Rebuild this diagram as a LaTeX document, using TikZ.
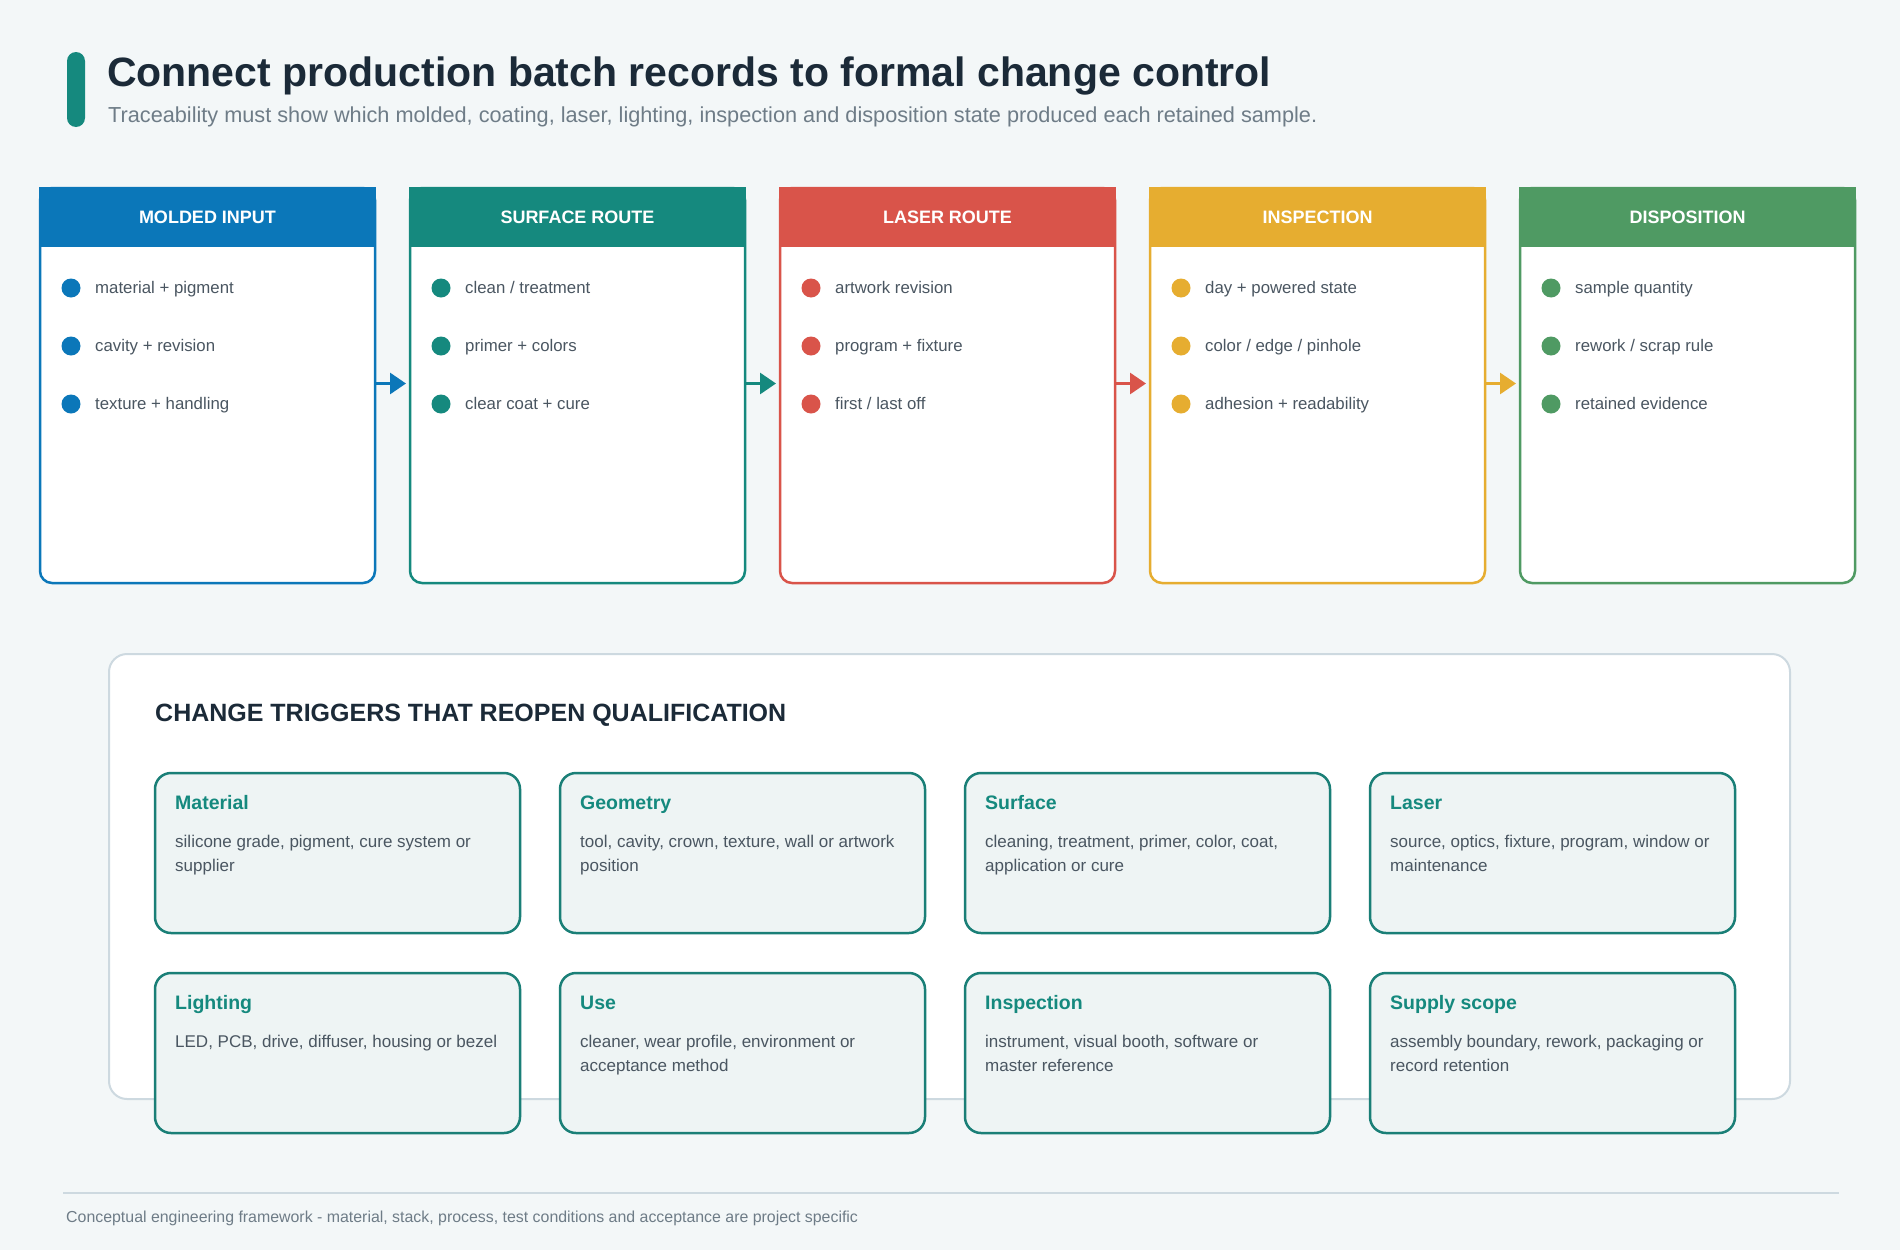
\documentclass[tikz,border=0pt]{standalone}
\usepackage{fontspec}
\setmainfont{Liberation Sans}
\usetikzlibrary{arrows.meta,positioning}
\definecolor{bg}{HTML}{F3F7F8}
\definecolor{ink}{HTML}{1B2A38}
\definecolor{muted}{HTML}{6E7C87}
\definecolor{body}{HTML}{4A5661}
\definecolor{cblue}{HTML}{0B77B9}
\definecolor{cteal}{HTML}{15897E}
\definecolor{cred}{HTML}{D9544A}
\definecolor{cyellow}{HTML}{E6AD30}
\definecolor{cgreen}{HTML}{4F9A63}
\definecolor{frame}{HTML}{CDD9E0}
\definecolor{cardfill}{HTML}{EEF4F4}
\definecolor{cardline}{HTML}{1A7F77}
\tikzset{
    %Define standard arrow tip
    >={Triangle[length=16pt,width=21pt]},
    %Define style for stage boxes
    stage/.style={
           rectangle,
           rounded corners=12pt,
           draw=#1, line width=2.5pt,
           fill=white,
           outer sep=0pt,
           minimum width=335pt,
           minimum height=395pt},
    %Define style for stage headers
    stagehead/.style={
           rectangle,
           fill=#1,
           text=white,
           font=\bfseries\fontsize{18}{20}\selectfont,
           minimum width=337.5pt,
           minimum height=60.25pt,
           yshift=1.25pt,
           anchor=north},
    % Define bullet and item styles
    dot/.style={
           circle,
           fill=#1,
           inner sep=0pt,
           minimum size=19pt},
    item/.style={
           anchor=base west,
           inner sep=0pt,
           text=body,
           font=\fontsize{16.8}{20}\selectfont},
    % Define arrow style
    flow/.style={
           ->,
           line width=3pt,
           draw=#1,
           shorten >=4pt},
    % Define trigger card styles
    card/.style={
           rectangle,
           rounded corners=16pt,
           draw=cardline, line width=2.5pt,
           fill=cardfill,
           outer sep=0pt,
           minimum width=365pt,
           minimum height=160pt},
    cardtitle/.style={
           anchor=base west,
           inner sep=0pt,
           text=cteal,
           font=\bfseries\fontsize{19.5}{22}\selectfont},
    cardtext/.style={
           anchor=north west,
           inner sep=0pt,
           align=left,
           text=body,
           font=\fontsize{17}{24}\selectfont},
}
\begin{document}
\begin{tikzpicture}[x=1pt, y=-1pt]
 %canvas
    \fill[bg] (0,0) rectangle (1900,1250);
    \useasboundingbox (0,0) rectangle (1900,1250);
 %title
    \node[fill=cteal, rounded corners=9pt, inner sep=0pt, minimum width=18pt, minimum height=75pt] (pill) at (76,89.5) {};
    \node[anchor=base west, inner sep=0pt, text=ink, font=\bfseries\fontsize{41}{45}\selectfont] (title) at (107,86) {Connect production batch records to formal change control};
    \node[anchor=base west, inner sep=0pt, text=muted, font=\fontsize{21.7}{24}\selectfont] (subtitle) at (108,122) {Traceability must show which molded, coating, laser, lighting, inspection and disposition state produced each retained sample.};
 %stages
    \node[stage=cblue] (molded) at (207.5,385.5) {};
    \node[stage=cteal, right=35pt of molded] (surface) {};
    \node[stage=cred, right=35pt of surface] (laser) {};
    \node[stage=cyellow, right=35pt of laser] (inspect) {};
    \node[stage=cgreen, right=35pt of inspect] (dispo) {};
    \node[stagehead=cblue] (moldedhead) at (molded.north) {MOLDED INPUT};
    \node[stagehead=cteal] (surfacehead) at (surface.north) {SURFACE ROUTE};
    \node[stagehead=cred] (laserhead) at (laser.north) {LASER ROUTE};
    \node[stagehead=cyellow] (inspecthead) at (inspect.north) {INSPECTION};
    \node[stagehead=cgreen] (dispohead) at (dispo.north) {DISPOSITION};
 %items
    \foreach \t [count=\i] in {material + pigment, cavity + revision, texture + handling}{
        \node[dot=cblue] (molded-d\i) at ([shift={(31,42+58*\i)}]molded.north west) {};
        \node[item] (molded-t\i) at ([shift={(55,47+58*\i)}]molded.north west) {\t};
    }
    \foreach \t [count=\i] in {clean / treatment, primer + colors, clear coat + cure}{
        \node[dot=cteal] (surface-d\i) at ([shift={(31,42+58*\i)}]surface.north west) {};
        \node[item] (surface-t\i) at ([shift={(55,47+58*\i)}]surface.north west) {\t};
    }
    \foreach \t [count=\i] in {artwork revision, program + fixture, first / last off}{
        \node[dot=cred] (laser-d\i) at ([shift={(31,42+58*\i)}]laser.north west) {};
        \node[item] (laser-t\i) at ([shift={(55,47+58*\i)}]laser.north west) {\t};
    }
    \foreach \t [count=\i] in {day + powered state, color / edge / pinhole, adhesion + readability}{
        \node[dot=cyellow] (inspect-d\i) at ([shift={(31,42+58*\i)}]inspect.north west) {};
        \node[item] (inspect-t\i) at ([shift={(55,47+58*\i)}]inspect.north west) {\t};
    }
    \foreach \t [count=\i] in {sample quantity, rework / scrap rule, retained evidence}{
        \node[dot=cgreen] (dispo-d\i) at ([shift={(31,42+58*\i)}]dispo.north west) {};
        \node[item] (dispo-t\i) at ([shift={(55,47+58*\i)}]dispo.north west) {\t};
    }
 %edges
    \draw[flow=cblue] ([yshift=2pt]molded.east) -- ([yshift=2pt]surface.west);
    \draw[flow=cteal] ([yshift=2pt]surface.east) -- ([yshift=2pt]laser.west);
    \draw[flow=cred] ([yshift=2pt]laser.east) -- ([yshift=2pt]inspect.west);
    \draw[flow=cyellow] ([yshift=2pt]inspect.east) -- ([yshift=2pt]dispo.west);
 %triggers
    \node[rectangle, rounded corners=18pt, draw=frame, line width=2pt, fill=white, minimum width=1681pt, minimum height=445pt] (triggers) at (949.5,876.5) {};
    \node[anchor=base west, inner sep=0pt, text=ink, font=\bfseries\fontsize{25}{28}\selectfont] (trighead) at (155,721) {CHANGE TRIGGERS THAT REOPEN QUALIFICATION};
    \node[card] (material) at (337.5,853) {};
    \node[card, right=40pt of material] (geometry) {};
    \node[card, right=40pt of geometry] (surf) {};
    \node[card, right=40pt of surf] (las) {};
    \node[card, below=40pt of material] (light) {};
    \node[card, right=40pt of light] (use) {};
    \node[card, right=40pt of use] (insp) {};
    \node[card, right=40pt of insp] (supply) {};
    \foreach \nm/\ttl/\txt in {
        material/Material/{silicone grade, pigment, cure system or\\supplier},
        geometry/Geometry/{tool, cavity, crown, texture, wall or artwork\\position},
        surf/Surface/{cleaning, treatment, primer, color, coat,\\application or cure},
        las/Laser/{source, optics, fixture, program, window or\\maintenance},
        light/Lighting/{LED, PCB, drive, diffuser, housing or bezel},
        use/Use/{cleaner, wear profile, environment or\\acceptance method},
        insp/Inspection/{instrument, visual booth, software or\\master reference},
        supply/Supply scope/{assembly boundary, rework, packaging or\\record retention}}{
        \node[cardtitle] (\nm-title) at ([shift={(20,36)}]\nm.north west) {\ttl};
        \node[cardtext] (\nm-text) at ([shift={(20,62)}]\nm.north west) {\txt};
    }
 %footer
    \coordinate (rulel) at (63,1193);
    \coordinate (ruler) at (1839,1193);
    \draw[frame, line width=2pt] (rulel) -- (ruler);
    \node[anchor=base west, inner sep=0pt, text=muted, font=\fontsize{15.9}{18}\selectfont] (footer) at (66,1222) {Conceptual engineering framework - material, stack, process, test conditions and acceptance are project specific};
\end{tikzpicture}
\end{document}
